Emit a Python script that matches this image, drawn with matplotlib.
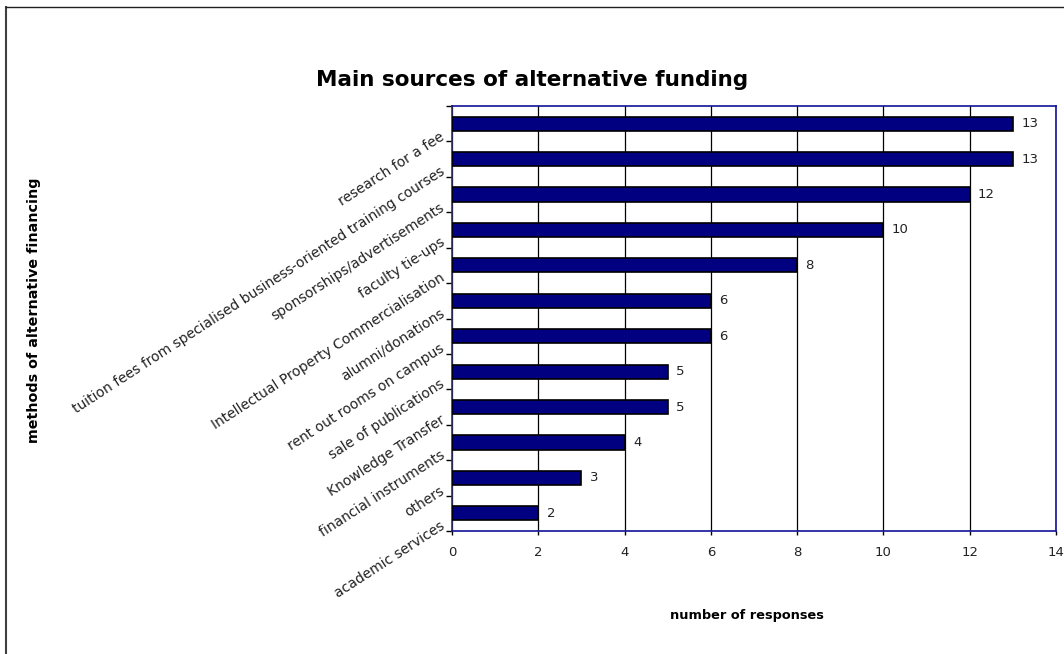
import matplotlib
matplotlib.use("Agg")
import matplotlib.pyplot as plt
import matplotlib.transforms as mtransforms
from matplotlib.lines import Line2D
import numpy as np

matplotlib.rcParams["font.family"] = "DejaVu Sans"

# funding sources, listed top to bottom
sources = [
    "research for a fee",
    "tuition fees from specialised business-oriented training courses",
    "sponsorships/advertisements",
    "faculty tie-ups",
    "Intellectual Property Commercialisation",
    "alumni/donations",
    "rent out rooms on campus",
    "sale of publications",
    "Knowledge Transfer",
    "financial instruments",
    "others",
    "academic services",
]
responses = [13, 13, 12, 10, 8, 6, 6, 5, 5, 4, 3, 2]
x_ticks = [0, 2, 4, 6, 8, 10, 12, 14]

NAVY = "#000080"
FRAME = "#12129a"

fig = plt.figure(figsize=(10.64, 6.54), dpi=100)
ax = fig.add_axes([452 / 1064, 1 - 531 / 654, 604 / 1064, 425 / 654])

y = np.arange(len(sources))
ax.barh(y, responses, height=0.4, color=NAVY, edgecolor="black",
        linewidth=1.2, zorder=3)
for yi, v in zip(y, responses):
    ax.annotate(str(v), (v, yi), xytext=(6, 0), textcoords="offset points",
                ha="left", va="center", fontsize=9.5, color="#222222")

ax.set_xlim(0, 14)
ax.set_ylim(len(sources) - 0.5, -0.5)
ax.set_xticks(x_ticks)
ax.set_xticklabels([str(t) for t in x_ticks], fontsize=9.5, color="#222222")
ax.tick_params(axis="x", length=3, width=1, pad=8, color="black")

# category labels at bar centres, tick marks between categories
ax.set_yticks(y)
ax.set_yticks(np.arange(-0.5, len(sources), 1.0), minor=True)
ax.tick_params(axis="y", which="major", length=0, pad=9)
ax.tick_params(axis="y", which="minor", length=4, width=1, color="black")
ax.set_yticklabels(sources, fontsize=10, color="#222222", rotation=33,
                   rotation_mode="anchor", ha="right", va="top")
shift = mtransforms.ScaledTranslation(0, -4 / 72, fig.dpi_scale_trans)
for lab in ax.get_yticklabels():
    lab.set_transform(lab.get_transform() + shift)

ax.grid(True, axis="x", color="black", linewidth=0.9, zorder=1)
for s in ax.spines.values():
    s.set_color(FRAME)
    s.set_linewidth(1.2)
ax.spines["left"].set_color("#303060")

fig.text(0.5, 1 - 80 / 654, "Main sources of alternative funding",
         ha="center", va="center", fontsize=15.5, fontweight="bold")
fig.text(747 / 1064, 1 - 615 / 654, "number of responses",
         ha="center", va="center", fontsize=9.3, fontweight="bold")
fig.text(34 / 1064, 1 - 310 / 654, "methods of alternative financing",
         ha="center", va="center", rotation=90, fontsize=10.3,
         fontweight="bold")

# outer chart border (left and top edges)
fig.add_artist(Line2D([6 / 1064, 6 / 1064], [0, 1 - 7 / 654],
                      transform=fig.transFigure, color="#404040", lw=1.5))
fig.add_artist(Line2D([6 / 1064, 1], [1 - 7 / 654, 1 - 7 / 654],
                      transform=fig.transFigure, color="#202020", lw=1.0))

fig.savefig("out.png", dpi=100)
